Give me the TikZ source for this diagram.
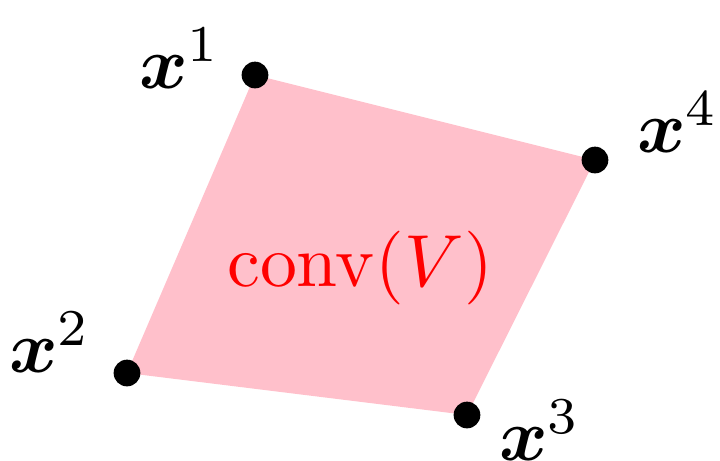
\documentclass[tikz,border=0pt]{standalone}
\usepackage{bm}
\definecolor{polypink}{RGB}{255,192,203}
\tikzset{vertex/.style={circle, fill=black, inner sep=0pt, minimum size=3.8pt},
  label/.style={scale=1.05}}
\begin{document}
\begin{tikzpicture}
\useasboundingbox (0,0) rectangle (3.6,2.3);
\coordinate (v1) at (1.275,1.925);
\coordinate (v2) at (0.635,0.435);
\coordinate (v3) at (2.335,0.225);
\coordinate (v4) at (2.975,1.5);

\fill[polypink] (v1) -- (v4) -- (v3) -- (v2) -- cycle;

\node[vertex] (p1) at (v1) {};
\node[vertex] (p2) at (v2) {};
\node[vertex] (p3) at (v3) {};
\node[vertex] (p4) at (v4) {};

\node[label] (l1) at (0.9,2.01) {$\bm{x}^1$};
\node[label] (l2) at (0.25,0.59) {$\bm{x}^2$};
\node[label] (l3) at (2.7,0.15) {$\bm{x}^3$};
\node[label] (l4) at (3.39,1.69) {$\bm{x}^4$};

\node[label, red] (c) at (1.8,0.96) {$\mathrm{conv}(V)$};
\end{tikzpicture}
\end{document}
